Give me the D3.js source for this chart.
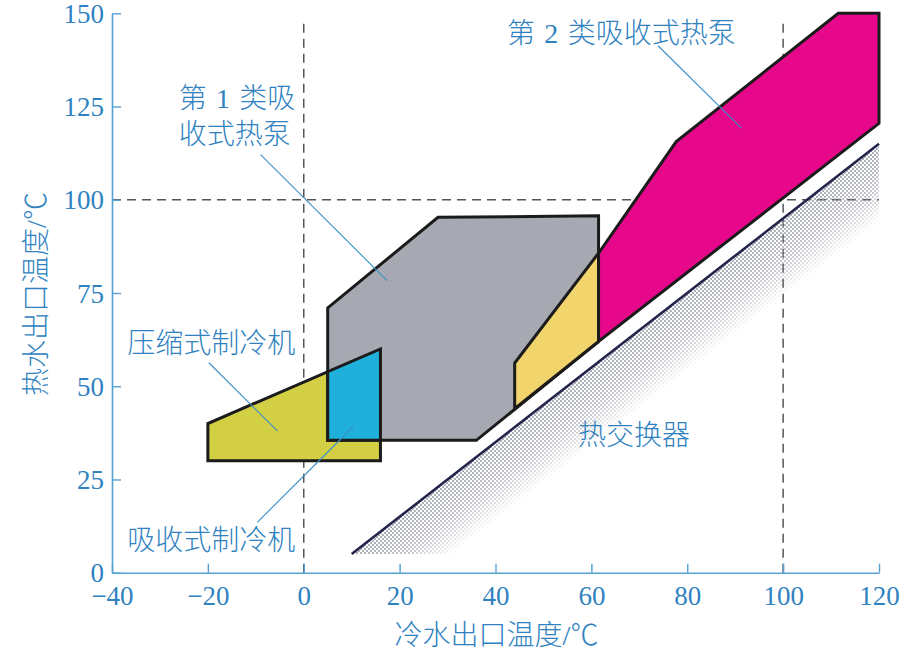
<!DOCTYPE html>
<html><head><meta charset="utf-8">
<script src="https://cdn.jsdelivr.net/npm/d3@7"></script>
<style>
html,body{margin:0;padding:0;background:#fff;}
svg{display:block;}
</style></head>
<body>
<svg id="chart" width="922" height="650"></svg>
<script>
// ---- data (°C) ----
const xTicks = [-40, -20, 0, 20, 40, 60, 80, 100, 120];
const yTicks = [0, 25, 50, 75, 100, 125, 150];
const xLabel = "冷水出口温度/℃";
const yLabel = "热水出口温度/℃";

const compressionChiller = [[-20, 30], [-20, 40], [16, 60], [16, 30]];
const heatPump1 = [[5, 35.5], [5, 71], [28, 95.3], [61.5, 95.7], [61.5, 62], [36, 35.5]];
const absorptionChiller = [[5, 35.5], [5, 53.9], [16, 60], [16, 35.5]];
const overlapZone = [[44, 44], [44, 56.2], [61.5, 85.7], [61.5, 62]];
const heatPump2 = [[61.5, 62], [61.5, 85.7], [77.7, 115.6], [111.5, 150], [120, 150], [120, 120.5]];
const heatExchangerLine = [[10, 5], [120, 115]];
const heatExchangerBand = [[10, 5], [120, 115], [120, 94], [31, 5]];
const refLinesX = [0, 100];
const refLinesY = [100];

const labels = [
  {text: "第\u20042\u2004类吸收式热泵", x: 42.4, y: 144.8},
  {text: "第\u20041\u2004类吸", x: -26.1, y: 127.4},
  {text: "收式热泵", x: -26.1, y: 117.6},
  {text: "压缩式制冷机", x: -36.8, y: 61.7},
  {text: "吸收式制冷机", x: -36.8, y: 8.8},
  {text: "热交换器", x: 57.2, y: 36.9}
];
const leaders = [
  [[73.9, 141.3], [91.3, 119.2]],
  [[-9.0, 112.1], [17.4, 78.3]],
  [[-19.8, 56.3], [-5.5, 38.0]],
  [[-9.7, 13.5], [10.5, 39.4]]
];

// ---- layout ----
const svg = d3.select("#chart");
const x = d3.scaleLinear().domain([-40, 120]).range([112, 879]);
const y = d3.scaleLinear().domain([0, 150]).range([572.7, 13.3]);
const blue = "#2f82bf";
const axisBlue = "#55a2d2";
const labelFont = "'Liberation Serif','Noto Sans CJK SC',serif";
const line = d3.line().x(d => x(d[0])).y(d => y(d[1]));
const poly = pts => line(pts) + "Z";

// defs: checker pattern + fade mask
const defs = svg.append("defs");
const pat = defs.append("pattern").attr("id", "chk").attr("patternUnits", "userSpaceOnUse")
  .attr("width", 4).attr("height", 4);
pat.append("rect").attr("width", 2).attr("height", 2).attr("fill", "#969aa4");
pat.append("rect").attr("x", 2).attr("y", 2).attr("width", 2).attr("height", 2).attr("fill", "#969aa4");

const p0 = [x(heatExchangerLine[0][0]), y(heatExchangerLine[0][1])];
const p1 = [x(heatExchangerLine[1][0]), y(heatExchangerLine[1][1])];
const dx = p1[0] - p0[0], dy = p1[1] - p0[1];
const len = Math.hypot(dx, dy);
const nx = -dy / len, ny = dx / len; // perpendicular toward lower-right
const grad = defs.append("linearGradient").attr("id", "fade").attr("gradientUnits", "userSpaceOnUse")
  .attr("x1", p0[0]).attr("y1", p0[1]).attr("x2", p0[0] + nx * 62).attr("y2", p0[1] + ny * 62);
grad.append("stop").attr("offset", 0).attr("stop-color", "#fff").attr("stop-opacity", 0.95);
grad.append("stop").attr("offset", 0.55).attr("stop-color", "#fff").attr("stop-opacity", 0.65);
grad.append("stop").attr("offset", 1).attr("stop-color", "#fff").attr("stop-opacity", 0);
defs.append("mask").attr("id", "fadeMask").attr("maskUnits", "userSpaceOnUse")
  .attr("x", 0).attr("y", 0).attr("width", 922).attr("height", 650)
  .append("rect").attr("width", 922).attr("height", 650).attr("fill", "url(#fade)");

// reference dashed lines
refLinesX.forEach(v => {
  svg.append("line").attr("x1", x(v)).attr("x2", x(v)).attr("y1", y(0)).attr("y2", y(148.5))
    .attr("stroke", "#555").attr("stroke-width", 1.5).attr("stroke-dasharray", "9,6");
});
refLinesY.forEach(v => {
  svg.append("line").attr("x1", x(-40)).attr("x2", x(120)).attr("y1", y(v)).attr("y2", y(v))
    .attr("stroke", "#555").attr("stroke-width", 1.5).attr("stroke-dasharray", "9,6");
});

// heat exchanger band
svg.append("path").attr("d", poly(heatExchangerBand)).attr("fill", "url(#chk)")
  .attr("mask", "url(#fadeMask)").attr("opacity", 0.85);

// region polygons
const stroke = "#1b1b1b", sw = 3;
[[compressionChiller, "#d3cf45"], [heatPump1, "#a6a9b1"], [absorptionChiller, "#1fb1dc"],
 [overlapZone, "#f1d46c"], [heatPump2, "#e6078b"]].forEach(([pts, c]) => {
  svg.append("path").attr("d", poly(pts)).attr("fill", c)
    .attr("stroke", stroke).attr("stroke-width", sw).attr("stroke-linejoin", "miter");
});

// heat exchanger line
svg.append("path").attr("d", line(heatExchangerLine)).attr("fill", "none")
  .attr("stroke", "#25244d").attr("stroke-width", 2.6);

// leader lines
leaders.forEach(l => {
  svg.append("path").attr("d", line(l)).attr("stroke", "#3b8fc6").attr("stroke-width", 1.1).attr("fill", "none");
});

// labels
labels.forEach(l => {
  svg.append("text").attr("x", x(l.x)).attr("y", y(l.y)).attr("dy", "0.36em")
    .attr("font-family", labelFont).attr("font-size", 28).attr("font-weight", 300)
    .attr("fill", blue).text(l.text);
});

// axes
const fmt = d => d < 0 ? "−" + Math.abs(d) : String(d);
const gx = svg.append("g").attr("transform", `translate(0,${y(0)})`)
  .call(d3.axisBottom(x).tickValues(xTicks).tickSize(-9).tickSizeOuter(0).tickFormat(fmt));
const gy = svg.append("g").attr("transform", `translate(${x(-40)},0)`)
  .call(d3.axisLeft(y).tickValues(yTicks).tickSize(-9).tickSizeOuter(0).tickPadding(8).tickFormat(fmt));
[gx, gy].forEach(g => {
  g.select(".domain").attr("stroke", axisBlue).attr("stroke-width", 1.6);
  g.selectAll(".tick line").attr("stroke", axisBlue).attr("stroke-width", 1.4);
  g.selectAll(".tick text").attr("fill", blue).attr("font-family", "'Liberation Serif',serif")
    .attr("font-size", 27);
});
gx.selectAll(".tick text").attr("y", 23).attr("dy", "0.34em");
gy.selectAll(".tick text").attr("dy", "0.34em");

// axis titles
svg.append("text").attr("x", 496.5).attr("y", 635).attr("dy", "0.36em").attr("text-anchor", "middle")
  .attr("font-family", labelFont).attr("font-size", 28).attr("font-weight", 300)
  .attr("fill", blue).text(xLabel);
svg.append("text").attr("transform", "translate(36,294) rotate(-90)").attr("dy", "0.36em")
  .attr("text-anchor", "middle").attr("font-family", labelFont).attr("font-size", 28)
  .attr("font-weight", 300).attr("fill", blue).text(yLabel);
</script>
</body></html>
